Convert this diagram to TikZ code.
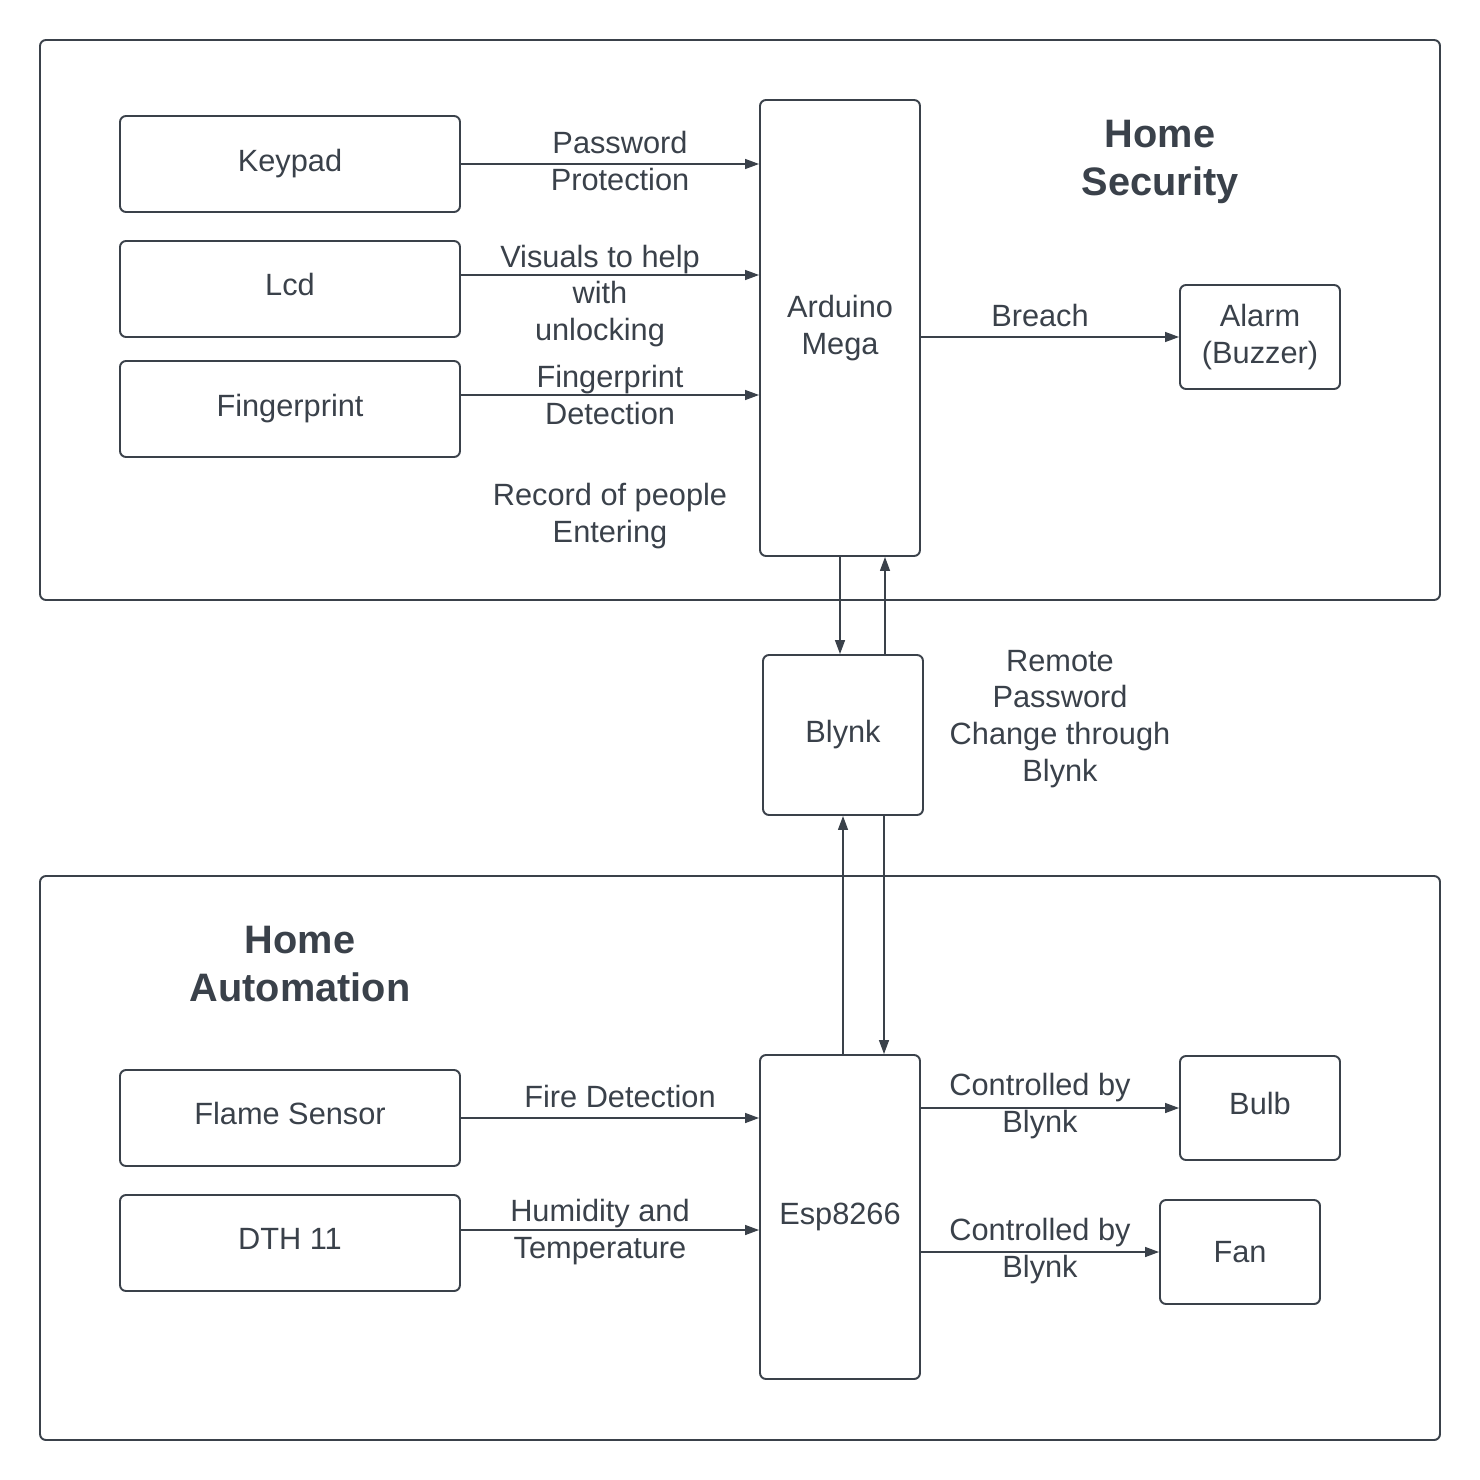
\documentclass[tikz,border=0pt]{standalone}
\usepackage{fontspec}
\setmainfont{Liberation Sans}
\usetikzlibrary{arrows.meta}
\definecolor{ink}{HTML}{3A414A}
\tikzset{
  blk/.style={draw=ink,line width=0.55pt,rounded corners=0.6mm,align=center,
    text=ink,font=\fontsize{8.75}{10.5}\selectfont,inner sep=0pt},
  oneline/.style={text depth=0.25em},
  lbl/.style={text=ink,align=center,font=\fontsize{8.75}{10.5}\selectfont,inner sep=0pt},
  ttl/.style={text=ink,align=center,font=\fontsize{11.3}{13.7}\selectfont\bfseries,inner sep=0pt},
  arr/.style={draw=ink,line width=0.38pt,-{Triangle[length=1.4mm,width=1mm]}}
}
\begin{document}
\begin{tikzpicture}[x=0.1mm,y=-0.1mm]
  \useasboundingbox (0,0) rectangle (1480,1480);
  % the two sub-systems
  \draw[ink,line width=0.55pt,rounded corners=0.6mm] (40,40) rectangle (1440,600);
  \draw[ink,line width=0.55pt,rounded corners=0.6mm] (40,876) rectangle (1440,1440);
  \node[ttl] (sectitle) at (1160,162) {Home\\Security};
  \node[ttl] (autotitle) at (300,964) {Home\\Automation};

  % home security
  \node[blk,minimum width=34mm,minimum height=9.6mm] (keypad) at (290,164) {Keypad};
  \node[blk,oneline,minimum width=34mm,minimum height=9.6mm] (lcd) at (290,289) {Lcd};
  \node[blk,minimum width=34mm,minimum height=9.6mm] (finger) at (290,409) {Fingerprint};
  \node[blk,minimum width=16mm,minimum height=45.6mm] (mega) at (840,328) {Arduino\\Mega};
  \node[blk,minimum width=16mm,minimum height=10.4mm] (alarm) at (1260,337) {Alarm\\(Buzzer)};

  \draw[arr] (keypad.east) -- (keypad.east -| mega.west);
  \draw[arr] ([yshift=1.4mm]lcd.east) -- ([yshift=1.4mm]lcd.east -| mega.west);
  \draw[arr] ([yshift=1.4mm]finger.east) -- ([yshift=1.4mm]finger.east -| mega.west);
  \draw[arr] (alarm.west -| mega.east) -- (alarm.west);
  \node[lbl] (pwlbl) at (620,161) {Password\\Protection};
  \node[lbl] (vislbl) at (600,296) {Visuals to help\\with\\unlocking};
  \node[lbl] (fplbl) at (610,395) {Fingerprint\\Detection};
  \node[lbl] (reclbl) at (610,516) {Record of people\\Entering};
  \node[lbl] (brlbl) at (1040,316) {Breach};

  % cloud link
  \node[blk,minimum width=16mm,minimum height=16mm] (blynk) at (843,735) {Blynk};
  \node[lbl] (remlbl) at (1060,719) {Remote\\Password\\Change through\\Blynk};
  \coordinate (megaup) at ([xshift=4.5mm]mega.south);
  \draw[arr] (mega.south) -- (mega.south |- blynk.north);
  \draw[arr] (megaup |- blynk.north) -- (megaup);

  % home automation
  \node[blk,oneline,minimum width=34mm,minimum height=9.6mm] (flame) at (290,1118) {Flame Sensor};
  \node[blk,oneline,minimum width=34mm,minimum height=9.6mm] (dth) at (290,1243) {DTH 11};
  \node[blk,minimum width=16mm,minimum height=32.4mm] (esp) at (840,1217) {Esp8266};
  \node[blk,oneline,minimum width=16mm,minimum height=10.4mm] (bulb) at (1260,1108) {Bulb};
  \node[blk,minimum width=16mm,minimum height=10.4mm] (fan) at (1240,1252) {Fan};

  \coordinate (blynkdn) at ([xshift=4.1mm]blynk.south);
  \draw[arr] (esp.north -| blynk.south) -- (blynk.south);
  \draw[arr] (blynkdn) -- (blynkdn |- esp.north);
  \draw[arr] (flame.east) -- (flame.east -| esp.west);
  \draw[arr] ([yshift=1.3mm]dth.east) -- ([yshift=1.3mm]dth.east -| esp.west);
  \draw[arr] (bulb.west -| esp.east) -- (bulb.west);
  \draw[arr] (fan.west -| esp.east) -- (fan.west);
  \node[lbl] (firelbl) at (620,1096) {Fire Detection};
  \node[lbl] (humlbl) at (600,1232) {Humidity and\\Temperature};
  \node[lbl] (bulblbl) at (1040,1106) {Controlled by\\Blynk};
  \node[lbl] (fanlbl) at (1040,1251) {Controlled by\\Blynk};
\end{tikzpicture}
\end{document}
